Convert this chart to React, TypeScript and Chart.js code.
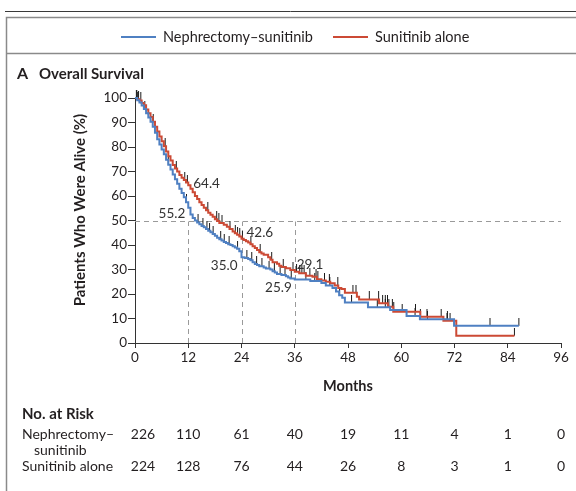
import React, { useEffect, useRef } from "react";
import { Chart, registerables } from "chart.js";
Chart.register(...registerables);

const seriesNames = ["Nephrectomy–sunitinib", "Sunitinib alone"];
const seriesColors = ["#4f80c2", "#cc4a35"];

const nephMonths = [0,0.5,1,1.5,2,2.5,3,3.5,4,4.5,5,5.5,6,6.5,7,7.5,8,8.5,9,9.5,10,10.5,11,11.5,12,12.5,13,13.5,14,14.5,15,15.5,16,16.5,17,17.5,18,18.5,19,19.5,20,20.5,21,21.5,22,22.5,23,23.5,24,24.7,25.5,26,26.5,27,27.5,28,29,29.5,30.5,31,31.5,32,33,34,34.5,35,36,39.5,42,43,44.5,45.3,46,46.7,47.3,52.5,57.5,61.2,64.2,71.9,86.5];
const nephSurv = [100,99.1,98.2,96.9,95.5,93.8,92,90.3,88.3,85.8,83.2,81,79,77,74.8,72.8,70.8,68.8,66.8,65,63,61.2,59.5,57.5,55.2,52.5,51,50,49.2,48.5,47.8,47.2,46.5,45.8,45.2,44.5,43.8,43,42.3,41.8,41.2,40.8,40.3,40,39.5,39,38.5,37.5,35,34.7,34.3,33.8,33,32.2,31.8,31.3,30.8,30.4,30,29.3,28.8,28.2,27.8,27.2,26.7,26.3,25.9,25.3,24.5,23.5,22.5,21,19.5,18.5,16.5,14.6,13.5,11,9.7,7,7];

const suniMonths = [0,0.5,1,1.5,2,2.5,3,3.5,4,4.5,5,5.5,6,6.5,7,7.5,8,8.5,9,9.5,10,10.5,11,11.5,12,12.5,13,13.5,14,14.5,15,15.5,16,16.5,17,17.5,18,18.5,19,20,20.7,21.3,22,22.5,23,23.5,24,24.5,25,25.5,26,26.5,27,27.5,28,28.5,29,30,30.5,31,32,32.5,33,34,35,36,37,38.5,40,41,42,43,44,45,45.8,46.5,47.3,50,50.5,55,57,58.2,64.3,69.5,72.4,85.5];
const suniSurv = [100,99.5,99,98,97,95.3,93.8,92.2,90.3,88.3,86.3,84.3,82.3,80.3,78.2,76.2,74.5,72.7,71.2,70,68.6,67.5,66.5,65.5,64.4,63,61.5,60,58.8,57.5,56.3,55.2,54.2,53.2,52.3,51.5,50.5,49.8,49,48.3,47.5,46.5,45.5,44.8,44.2,43.5,42.6,42,41.5,41,40.3,39.5,38.8,38,37,36.5,36,35,34,33,32.3,31.5,31,30.5,29.8,29.1,28.5,27.5,27,26,25.5,25,24.4,23.5,22.5,22,20.5,18.9,17.8,16.2,14.8,12.8,10.7,9.1,3,3];

const nephCensor = [0.3,0.6,2.2,7.5,11.6,14.2,15.3,16.2,16.8,17.6,19.3,20.1,21.2,23.1,25.2,26.3,27.4,28.6,30.2,31.4,32.7,33.8,35.2,38.5,40.5,43.9,46.1,48.8,54.6,56.4,57.2,58.3,63.1,65.9,70.4,80,86.5];
const suniCensor = [0.4,0.8,1.3,4.1,6.8,9.3,11.2,11.8,16.4,18.4,18.9,19.6,21.4,22.6,23.1,23.6,24.2,26.1,28.2,30.8,33.4,35.6,36.4,37.1,37.6,38.1,39.4,40.8,41.2,42.7,43.8,45.7,49.1,49.8,52.8,54.9,55.8,56.4,56.9,58,60.2,63.2,64.3,65.8,69,70.3,71,85.5];

const xTicks = [0,12,24,36,48,60,72,84,96];
const riskNeph = [226,110,61,40,19,11,4,1,0];
const riskSuni = [224,128,76,44,26,8,3,1,0];
const landmarkMonths = [12,24,36];
const nephLandmark = [55.2,35.0,25.9];
const suniLandmark = [64.4,42.6,29.1];
const medianLine = 50;

const FONT = "Lato, 'Open Sans', sans-serif";
const TEXT = "#231f20";

function stepValue(months: number[], surv: number[], t: number) {
  let v = surv[0];
  for (let i = 0; i < months.length; i++) {
    if (months[i] <= t) v = surv[i];
  }
  return v;
}

function makeTickImage() {
  const c = document.createElement("canvas");
  c.width = 3;
  c.height = 16;
  const g = c.getContext("2d")!;
  g.strokeStyle = "#1a1a1a";
  g.lineWidth = 1;
  g.beginPath();
  g.moveTo(1.5, 0);
  g.lineTo(1.5, 8);
  g.stroke();
  return c;
}

export default function App() {
  const ref = useRef<HTMLCanvasElement>(null);
  useEffect(() => {
    if (!ref.current) return;
    const tickImg = makeTickImage();

    const decor = {
      id: "decor",
      beforeDatasetsDraw(chart: any) {
        const { ctx, scales } = chart;
        const xs = scales.x, ys = scales.y;
        ctx.save();
        ctx.strokeStyle = "#9a9a9a";
        ctx.lineWidth = 1;
        ctx.setLineDash([5, 4]);
        const y50 = Math.round(ys.getPixelForValue(medianLine)) + 0.5;
        ctx.beginPath();
        ctx.moveTo(xs.getPixelForValue(0), y50);
        ctx.lineTo(xs.getPixelForValue(96), y50);
        ctx.stroke();
        landmarkMonths.forEach((m) => {
          const px = Math.round(xs.getPixelForValue(m)) + 0.5;
          ctx.beginPath();
          ctx.moveTo(px, ys.getPixelForValue(0));
          ctx.lineTo(px, y50);
          ctx.stroke();
        });
        ctx.restore();
      },
      afterDraw(chart: any) {
        const { ctx, scales } = chart;
        const xs = scales.x, ys = scales.y;
        ctx.save();
        // frame
        ctx.strokeStyle = "#3a3a3a";
        ctx.lineWidth = 1;
        ctx.beginPath();
        ctx.moveTo(5, 11.5);
        ctx.lineTo(576, 11.5);
        ctx.stroke();
        ctx.strokeStyle = "#8a8a8a";
        ctx.lineWidth = 1.5;
        ctx.beginPath();
        ctx.moveTo(6.5, 491);
        ctx.lineTo(6.5, 17.5);
        ctx.lineTo(576, 17.5);
        ctx.moveTo(6.5, 53.5);
        ctx.lineTo(576, 53.5);
        ctx.stroke();

        // legend
        ctx.textBaseline = "middle";
        ctx.textAlign = "left";
        ctx.font = `14.5px ${FONT}`;
        ctx.fillStyle = TEXT;
        const legX = [121, 333];
        seriesNames.forEach((name, i) => {
          ctx.strokeStyle = seriesColors[i];
          ctx.lineWidth = 2;
          ctx.beginPath();
          ctx.moveTo(legX[i], 37);
          ctx.lineTo(legX[i] + 35, 37);
          ctx.stroke();
          ctx.fillText(name, legX[i] + 42, 37);
        });

        // panel title
        ctx.font = `bold 16px ${FONT}`;
        ctx.fillText("A", 17, 74);
        ctx.font = `bold 15px ${FONT}`;
        ctx.fillText("Overall Survival", 39, 74);

        // axis titles
        ctx.font = `bold 14.5px ${FONT}`;
        ctx.textAlign = "center";
        ctx.fillText("Months", 348, 386);
        ctx.save();
        ctx.translate(80, 210);
        ctx.rotate(-Math.PI / 2);
        ctx.font = `bold 15px ${FONT}`;
        ctx.fillText("Patients Who Were Alive (%)", 0, 0);
        ctx.restore();

        // landmark labels
        ctx.font = `13.5px ${FONT}`;
        ctx.fillStyle = "#333";
        const redOff = [[5, -2], [5, -6], [2, -7]];
        const blueOff = [[-3, 6], [-4, 8], [-3, 8]];
        landmarkMonths.forEach((m, i) => {
          const px = xs.getPixelForValue(m);
          const pr = ys.getPixelForValue(suniLandmark[i]);
          const pb = ys.getPixelForValue(nephLandmark[i]);
          ctx.textAlign = "left";
          ctx.fillText(suniLandmark[i].toFixed(1), px + redOff[i][0], pr + redOff[i][1]);
          ctx.textAlign = "right";
          ctx.fillText(nephLandmark[i].toFixed(1), px + blueOff[i][0], pb + blueOff[i][1]);
        });

        // risk table
        ctx.fillStyle = TEXT;
        ctx.textAlign = "left";
        ctx.font = `bold 15px ${FONT}`;
        ctx.fillText("No. at Risk", 22, 414);
        ctx.font = `14px ${FONT}`;
        ctx.fillText("Nephrectomy–", 22, 434);
        ctx.fillText("sunitinib", 34, 450);
        ctx.fillText("Sunitinib alone", 22, 466);
        ctx.textAlign = "center";
        xTicks.forEach((m, i) => {
          const px = xs.getPixelForValue(m) + (i === 0 ? 8 : 0);
          ctx.fillText(String(riskNeph[i]), px, 434);
          ctx.fillText(String(riskSuni[i]), px, 466);
        });
        ctx.restore();
      },
    };

    const chart = new Chart(ref.current, {
      type: "line",
      data: {
        datasets: [
          {
            label: seriesNames[0],
            data: nephMonths.map((m, i) => ({ x: m, y: nephSurv[i] })),
            borderColor: seriesColors[0],
            borderWidth: 2,
            stepped: "before",
            pointRadius: 0,
            fill: false,
            clip: false,
          },
          {
            label: seriesNames[1],
            data: suniMonths.map((m, i) => ({ x: m, y: suniSurv[i] })),
            borderColor: seriesColors[1],
            borderWidth: 2,
            stepped: "before",
            pointRadius: 0,
            fill: false,
            clip: false,
          },
          {
            label: "censor1",
            type: "scatter",
            data: nephCensor.map((t) => ({ x: t, y: stepValue(nephMonths, nephSurv, t) })),
            pointStyle: tickImg,
            pointRadius: 4,
            showLine: false,
            clip: false,
          },
          {
            label: "censor2",
            type: "scatter",
            data: suniCensor.map((t) => ({ x: t, y: stepValue(suniMonths, suniSurv, t) })),
            pointStyle: tickImg,
            pointRadius: 4,
            showLine: false,
            clip: false,
          },
        ] as any,
      },
      options: {
        responsive: false,
        devicePixelRatio: 1,
        animation: false,
        events: [],
        layout: { padding: { top: 98, left: 0, right: 15, bottom: 0 } },
        plugins: { legend: { display: false }, tooltip: { enabled: false }, title: { display: false } },
        scales: {
          x: {
            type: "linear",
            min: 0,
            max: 96,
            afterFit: (s: any) => { s.height = 148; },
            afterBuildTicks: (s: any) => { s.ticks = xTicks.map((v) => ({ value: v })); },
            ticks: { font: { family: FONT, size: 13.5 }, color: TEXT, padding: 2, maxRotation: 0 },
            grid: { display: true, drawOnChartArea: false, drawTicks: true, tickLength: 5, color: "#333" },
            border: { display: true, color: "#333", width: 1 },
          },
          y: {
            type: "linear",
            min: 0,
            max: 100,
            afterFit: (s: any) => { s.width = 135; },
            ticks: { stepSize: 10, font: { family: FONT, size: 13.5 }, color: TEXT, padding: 1 },
            grid: { display: true, drawOnChartArea: false, drawTicks: true, tickLength: 7, color: "#333" },
            border: { display: true, color: "#333", width: 1 },
          },
        },
      } as any,
      plugins: [decor],
    });
    return () => chart.destroy();
  }, []);

  return (
    <div style={{ position: "absolute", left: 0, top: 0, width: 576, height: 491, background: "#fff" }}>
      <canvas ref={ref} width={576} height={491} style={{ display: "block", width: 576, height: 491 }} />
    </div>
  );
}
